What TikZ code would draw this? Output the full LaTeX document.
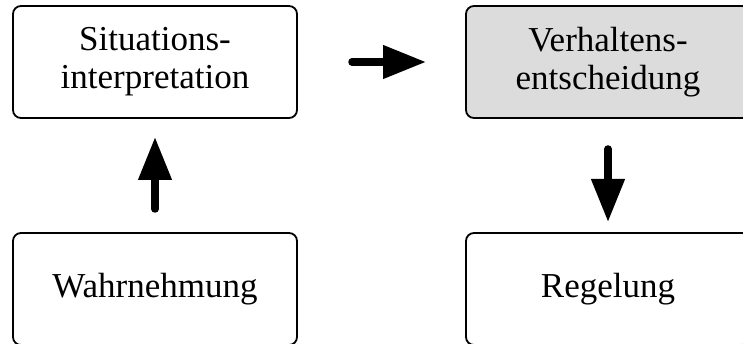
\documentclass[tikz,border=0pt]{standalone}
\usepackage{fontspec}
\setmainfont{Liberation Serif}
\usetikzlibrary{arrows.meta}
\definecolor{boxgray}{RGB}{220,220,220}
\tikzset{
  stagebox/.style={draw, line width=1.8pt, rounded corners=8pt, outer sep=0pt,
    minimum width=284pt, minimum height=112pt, align=center,
    font=\fontsize{35}{38}\selectfont},
  flow/.style={line width=7.5pt, line cap=round,
    -{Triangle[width=32pt,length=43pt]}}
}
\begin{document}
\begin{tikzpicture}[x=1pt, y=-1pt]
  \useasboundingbox (0,0) rectangle (743,344);
  \clip (0,0) rectangle (743,344);
  % the four stages
  \node[stagebox] (sit) at (155,62) {Situations-\\interpretation};
  \node[stagebox, fill=boxgray] (ver) at (608,62) {Verhaltens-\\entscheidung};
  \node[stagebox] (wahr) at (155,289) {Wahrnehmung};
  \node[stagebox] (reg) at (608,289) {Regelung};
  % flow between the stages
  \draw[flow, shorten <=24pt, shorten >=19pt] (wahr.north) -- (sit.south);
  \draw[flow, shorten <=55pt, shorten >=40pt] (sit.east) -- (ver.west);
  \draw[flow, shorten <=31pt, shorten >=11pt] (ver.south) -- (reg.north);
\end{tikzpicture}
\end{document}
